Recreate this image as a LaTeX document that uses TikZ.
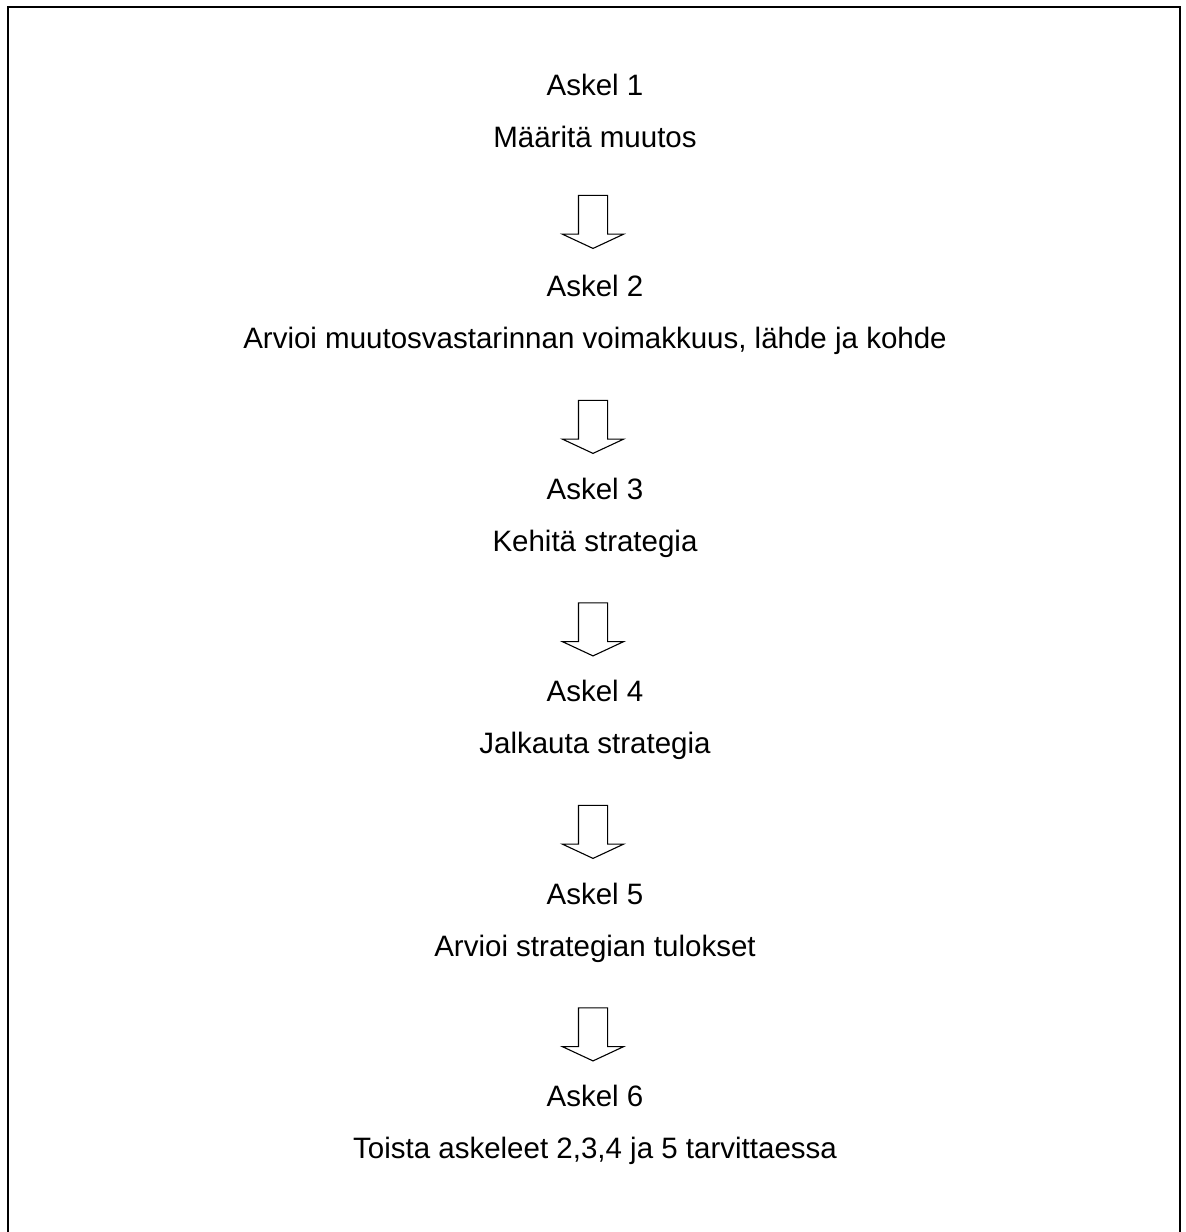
\documentclass[tikz,border=0pt]{standalone}
\usepackage{fontspec}
\setmainfont{Liberation Sans}
\usetikzlibrary{shapes.arrows}

\begin{document}
\begin{tikzpicture}[x=1pt, y=1pt,
  stepbox/.style={align=center, inner sep=0pt, font=\fontsize{29.5}{52}\selectfont},
  blockarrow/.style={draw, shape=single arrow, xshift=-2pt, yshift=-7pt, rotate=-90,
    line width=1.1pt, inner xsep=0pt, inner ysep=14pt,
    minimum height=53pt, single arrow head extend=16pt, single arrow tip angle=130}]
\useasboundingbox (0,0) rectangle (1186,-1232);
\draw[line width=2.5pt] (8,-1240) -- (8,-7) -- (1180,-7) -- (1180,-1240);
% steps
\node[stepbox] (s1) at (595,-111) {Askel 1\\Määritä muutos};
\node[stepbox] (s2) at (595,-315) {Askel 2\\Arvioi muutosvastarinnan voimakkuus, lähde ja kohde};
\node[stepbox] (s3) at (595,-518) {Askel 3\\Kehitä strategia};
\node[stepbox] (s4) at (595,-720) {Askel 4\\Jalkauta strategia};
\node[stepbox] (s5) at (595,-923) {Askel 5\\Arvioi strategian tulokset};
\node[stepbox] (s6) at (595,-1125) {Askel 6\\Toista askeleet 2,3,4 ja 5 tarvittaessa};
% arrows
\path (s1) -- node[blockarrow] (a1) {} (s2);
\path (s2) -- node[blockarrow] (a2) {} (s3);
\path (s3) -- node[blockarrow] (a3) {} (s4);
\path (s4) -- node[blockarrow] (a4) {} (s5);
\path (s5) -- node[blockarrow] (a5) {} (s6);
\end{tikzpicture}
\end{document}
